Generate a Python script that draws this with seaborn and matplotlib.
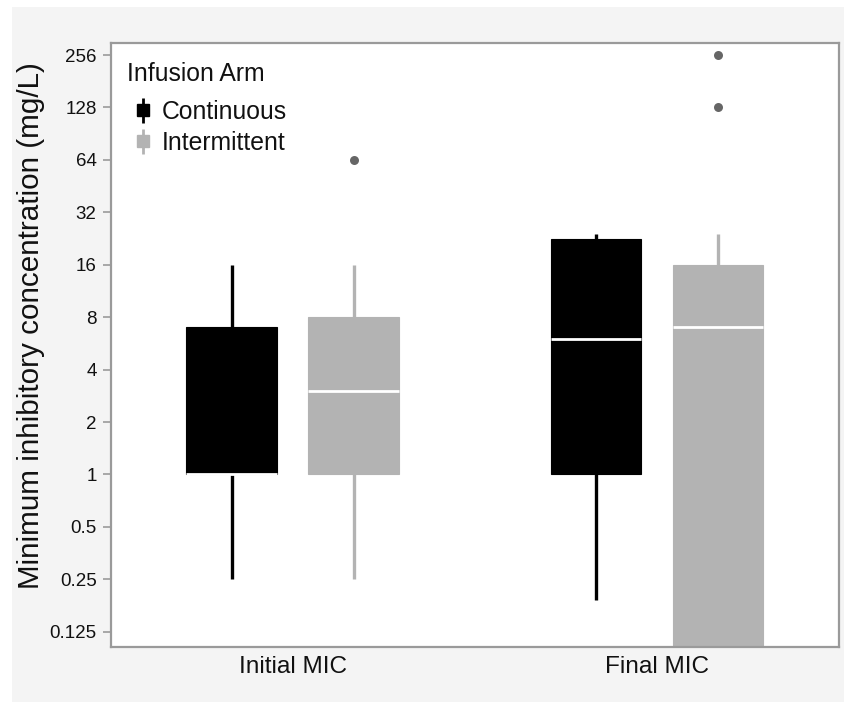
import numpy as np
import pandas as pd
import matplotlib
matplotlib.use("Agg")
import matplotlib.pyplot as plt
import seaborn as sns
from matplotlib.lines import Line2D
from matplotlib.legend_handler import HandlerTuple
from matplotlib.patches import Rectangle

# ---------------- data ----------------
categories = ["Initial MIC", "Final MIC"]
arms = ["Continuous", "Intermittent"]
# five-number summaries: lower whisker, Q1, median, Q3, upper whisker
initial_continuous = [0.25, 1.0, 1.0, 7.0, 16.0]
initial_intermittent = [0.25, 1.0, 3.0, 8.0, 16.0]
final_continuous = [0.19, 1.0, 6.0, 22.5, 24.0]
final_intermittent = [0.03, 0.06, 7.0, 16.0, 24.0]
# outliers
outlier_category = ["Initial MIC", "Final MIC", "Final MIC"]
outlier_arm = ["Intermittent", "Intermittent", "Intermittent"]
outlier_value = [64.0, 128.0, 256.0]
ytick_values = [0.125, 0.25, 0.5, 1, 2, 4, 8, 16, 32, 64, 128, 256]
ytick_labels = ["0.125", "0.25", "0.5", "1", "2", "4", "8", "16", "32", "64", "128", "256"]

arm_colors = {"Continuous": "#000000", "Intermittent": "#b3b3b3"}

rows = []
for cat, arm, vals in [("Initial MIC", "Continuous", initial_continuous),
                       ("Initial MIC", "Intermittent", initial_intermittent),
                       ("Final MIC", "Continuous", final_continuous),
                       ("Final MIC", "Intermittent", final_intermittent)]:
    for v in vals:
        rows.append({"stage": cat, "arm": arm, "mic": v})
df = pd.DataFrame(rows)

# ---------------- style ----------------
sns.set_theme(style="white")
plt.rcParams["font.family"] = ["Liberation Sans", "DejaVu Sans"]

fig = plt.figure(figsize=(8.48, 7.03), dpi=100, facecolor="white")
fig.patches.append(Rectangle((12 / 848, 1 / 703), (844 - 12) / 848, (696 - 1) / 703,
                             transform=fig.transFigure, facecolor="#f4f4f4",
                             edgecolor="none", zorder=-10))
ax = fig.add_axes([110.5 / 848, 1 - 646.7 / 703, (839 - 110.5) / 848, (646.7 - 42.7) / 703])
ax.set_facecolor("white")

box_width = 0.67
box_gap = 0.26
sns.boxplot(data=df, x="stage", y="mic", hue="arm", order=categories,
            hue_order=arms, palette=arm_colors, whis=(0, 100),
            width=box_width, gap=box_gap, showfliers=False, showcaps=False,
            linecolor="#000000", linewidth=2.2,
            boxprops=dict(linewidth=0.8),
            whiskerprops=dict(linewidth=2.4),
            medianprops=dict(color="white", linewidth=2.0),
            legend=False, ax=ax)

# colour each box's outline and whiskers with its arm colour
for p in ax.patches:
    fc = p.get_facecolor()
    p.set_edgecolor(fc)
for ln in ax.lines:
    xd = np.asarray(ln.get_xdata(), dtype=float)
    if len(xd) and np.allclose(xd, xd[0]):  # vertical whisker
        arm_idx = 0 if xd[0] - round(xd[0]) < 0 else 1
        ln.set_color(arm_colors[arms[arm_idx]])

# outliers placed at the dodged hue positions
ox = [categories.index(c) + (arms.index(a) - 0.5) * box_width / 2
      for c, a in zip(outlier_category, outlier_arm)]
ax.scatter(ox, outlier_value, s=42, color="#666666", zorder=5, linewidths=0)

ax.set_yscale("log", base=2)
ax.set_ylim(2 ** -3.286, 2 ** 8.235)
ax.set_xlim(-0.5, 1.5)
ax.set_yticks(ytick_values)
ax.set_yticklabels(ytick_labels)
ax.yaxis.set_minor_locator(matplotlib.ticker.NullLocator())
ax.set_xticks(range(len(categories)))
ax.set_xticklabels(categories)

ax.tick_params(axis="y", which="major", length=6, width=1.2, color="#9a9a9a",
               labelsize=13.5, pad=4, labelcolor="#111111", left=True)
ax.tick_params(axis="x", length=0, labelsize=17.6, pad=7, labelcolor="#111111")
ax.set_xlabel("")
ax.set_ylabel("Minimum inhibitory concentration (mg/L)", fontsize=21.3,
              color="#111111")
ax.yaxis.set_label_coords(-0.090, 0.531)
for s in ax.spines.values():
    s.set_visible(True)
    s.set_color("#9a9a9a")
    s.set_linewidth(1.6)

# legend
handles = []
for arm in arms:
    c = arm_colors[arm]
    h_line = Line2D([], [], linestyle="none", marker="|", markersize=18,
                    markeredgewidth=2.0, color=c)
    h_box = Line2D([], [], linestyle="none", marker="s", markersize=8,
                   markerfacecolor=c, markeredgecolor=c)
    handles.append((h_line, h_box))
ax.text(16.5 / 728.5, 1 - 31 / 604, "Infusion Arm", transform=ax.transAxes,
        fontsize=17.8, color="#111111", ha="left", va="center")
leg = ax.legend(handles, arms, handler_map={tuple: HandlerTuple(ndivide=1)},
                loc="upper left", bbox_to_anchor=(15 / 728.5, 1 - 50 / 604),
                frameon=False, fontsize=17.8,
                handlelength=0.8, handletextpad=0.36, labelspacing=0.28,
                borderaxespad=0.0, borderpad=0.3)
for t in leg.get_texts():
    t.set_color("#111111")

fig.savefig("out.png", dpi=100, facecolor=fig.get_facecolor())
